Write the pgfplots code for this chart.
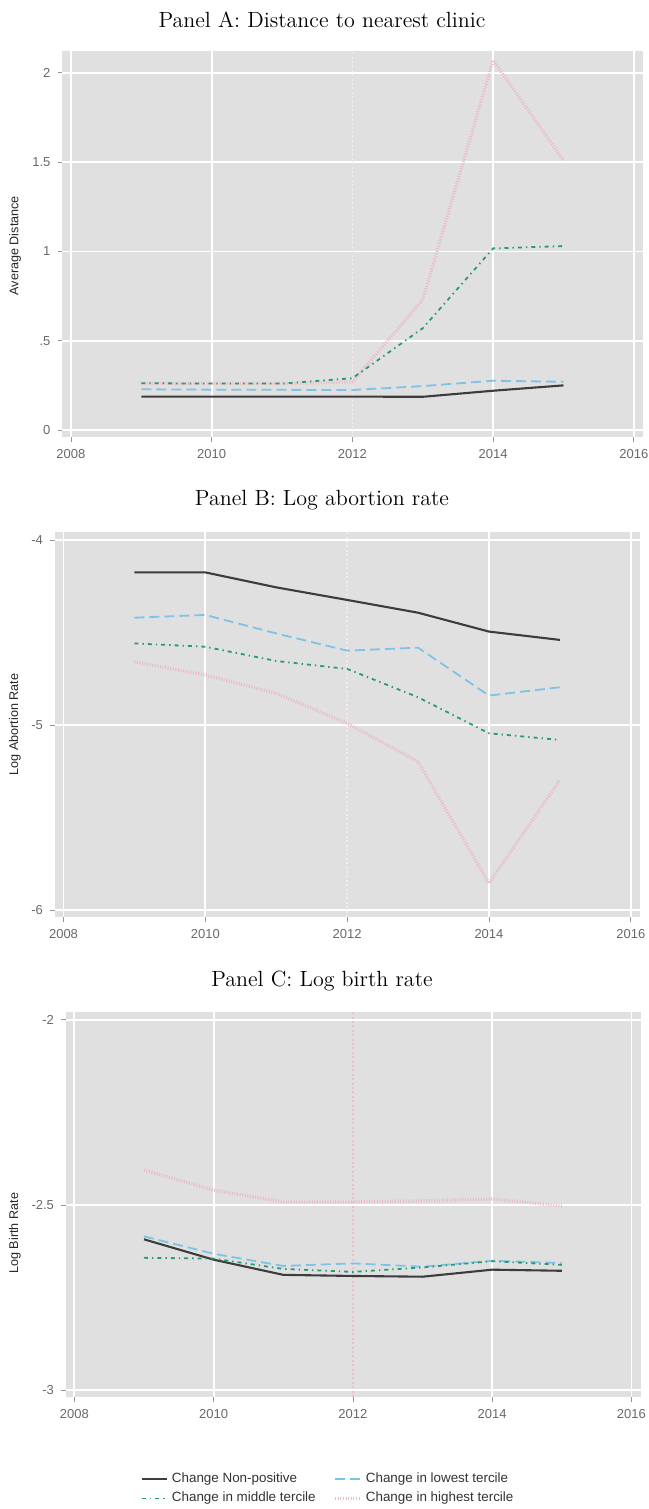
\documentclass[border=0pt]{standalone}
\usepackage{fontspec}
\newfontfamily\arial{Liberation Sans}
\usepackage{pgfplots}
\pgfplotsset{compat=1.18}
\definecolor{bg}{RGB}{224,224,224}
\definecolor{cblack}{RGB}{60,60,60}
\definecolor{cblue}{RGB}{125,195,230}
\definecolor{cgreen}{RGB}{40,155,115}
\definecolor{cpink}{RGB}{236,185,195}
\definecolor{vlineA}{RGB}{246,234,238}
\definecolor{vlineC}{RGB}{236,190,200}
\definecolor{tickc}{RGB}{105,105,105}

\pgfplotsset{
  panel/.style={
    scale only axis,
    anchor=south west,
    axis background/.style={fill=bg},
    axis line style={draw=none},
    xmin=2007.88, xmax=2016.13,
    xtick={2008,2010,2014,2016},
    xticklabels={2008,2010,2014,2016},
    extra x ticks={2012},
    extra x tick labels={2012},
    extra x tick style={grid=none},
    xtick pos=bottom, ytick pos=left,
    tick align=outside,
    major tick length=2.5pt,
    tick style={draw=tickc!70, line width=0.4pt},
    xmajorgrids=true, ymajorgrids=true,
    major grid style={white, line width=0.9pt},
    ticklabel style={font=\arial\fontsize{6.5}{7}\selectfont, text=tickc},
    ylabel style={font=\arial\fontsize{6.3}{7}\selectfont, text=black!85, anchor=center},
    legend image code/.code={\draw[##1] (0pt,0pt) -- (12.5pt,0pt);},
  },
  s1/.style={cblack, line width=1.05pt},
  s2/.style={cblue, line width=0.9pt, dash pattern=on 5pt off 2.5pt},
  s3/.style={cgreen, line width=0.9pt, dash pattern=on 2pt off 2pt on 0.7pt off 2pt},
  s4/.style={cpink, line width=1.6pt, dash pattern=on 0.5pt off 0.8pt},
}

\begin{document}
\begin{tikzpicture}
\path[use as bounding box] (0,0) rectangle (324pt,754.5pt);

\node[font=\fontsize{11}{13}\selectfont] at (161pt,744.5pt) {Panel A: Distance to nearest clinic};
\node[font=\fontsize{11}{13}\selectfont] at (161pt,504.5pt) {Panel B: Log abortion rate};
\node[font=\fontsize{11}{13}\selectfont] at (161pt,264pt) {Panel C: Log birth rate};

% Panel A
\begin{axis}[panel, at={(31.25pt,536pt)}, width=290.25pt, height=193.15pt,
  ymin=-0.039, ymax=2.124,
  ytick={0,0.5,1,1.5,2}, yticklabels={0,.5,1,1.5,2},
  ylabel={Average Distance},
  ylabel style={at={(axis description cs:-0.0818,0.495)}}]
\addplot[vlineA, line width=0.9pt, dash pattern=on 1pt off 1.2pt, forget plot] coordinates {(2012,-0.039) (2012,2.124)};
\addplot[s1] coordinates {(2009,0.187) (2010,0.187) (2011,0.187) (2012,0.187) (2013,0.186) (2014,0.22) (2015,0.25)};
\addplot[s2] coordinates {(2009,0.228) (2010,0.226) (2011,0.225) (2012,0.224) (2013,0.246) (2014,0.276) (2015,0.27)};
\addplot[s4] coordinates {(2009,0.262) (2010,0.26) (2011,0.26) (2012,0.27) (2013,0.73) (2014,2.07) (2015,1.51)};
\addplot[s3] coordinates {(2009,0.262) (2010,0.26) (2011,0.26) (2012,0.29) (2013,0.57) (2014,1.017) (2015,1.03)};
\end{axis}

% Panel B
\begin{axis}[panel, at={(27.5pt,296pt)}, width=292.5pt, height=192.65pt,
  ymin=-6.038, ymax=-3.955,
  ytick={-6,-5,-4}, yticklabels={-6,-5,-4},
  ylabel={Log Abortion Rate},
  ylabel style={at={(axis description cs:-0.0684,0.5)}}]
\addplot[vlineA, line width=0.9pt, dash pattern=on 1pt off 1.2pt, forget plot] coordinates {(2012,-6.038) (2012,-3.955)};
\addplot[s1] coordinates {(2009,-4.175) (2010,-4.175) (2011,-4.256) (2012,-4.324) (2013,-4.393) (2014,-4.495) (2015,-4.54)};
\addplot[s2] coordinates {(2009,-4.42) (2010,-4.405) (2011,-4.505) (2012,-4.598) (2013,-4.582) (2014,-4.841) (2015,-4.796)};
\addplot[s4] coordinates {(2009,-4.658) (2010,-4.73) (2011,-4.829) (2012,-4.991) (2013,-5.198) (2014,-5.856) (2015,-5.297)};
\addplot[s3] coordinates {(2009,-4.559) (2010,-4.577) (2011,-4.654) (2012,-4.697) (2013,-4.85) (2014,-5.045) (2015,-5.081)};
\end{axis}

% Panel C
\begin{axis}[panel, at={(33pt,56pt)}, width=287.25pt, height=192.65pt,
  ymin=-3.019, ymax=-1.978,
  ytick={-3,-2.5,-2}, yticklabels={-3,-2.5,-2},
  ylabel={Log Birth Rate},
  ylabel style={at={(axis description cs:-0.0888,0.425)}},
  legend columns=2, legend cell align=left,
  legend style={at={(0.458,-0.238)}, anchor=center, draw=none, fill=none,
    font=\arial\fontsize{6.7}{8}\selectfont, text=black!80,
    /tikz/every even column/.append style={column sep=7pt},
    row sep=-0.5pt}]
\addplot[vlineC, line width=0.9pt, dash pattern=on 1pt off 1.2pt, forget plot] coordinates {(2012,-3.019) (2012,-1.978)};
\addplot[s1] coordinates {(2009,-2.593) (2010,-2.648) (2011,-2.689) (2012,-2.692) (2013,-2.694) (2014,-2.675) (2015,-2.678)};
\addlegendentry{Change Non-positive}
\addplot[s2] coordinates {(2009,-2.585) (2010,-2.632) (2011,-2.665) (2012,-2.658) (2013,-2.667) (2014,-2.651) (2015,-2.657)};
\addlegendentry{Change in lowest tercile}
\addplot[s3] coordinates {(2009,-2.643) (2010,-2.645) (2011,-2.673) (2012,-2.681) (2013,-2.669) (2014,-2.652) (2015,-2.662)};
\addlegendentry{Change in middle tercile}
\addplot[s4] coordinates {(2009,-2.406) (2010,-2.46) (2011,-2.492) (2012,-2.492) (2013,-2.489) (2014,-2.484) (2015,-2.503)};
\addlegendentry{Change in highest tercile}
\end{axis}
\end{tikzpicture}
\end{document}
